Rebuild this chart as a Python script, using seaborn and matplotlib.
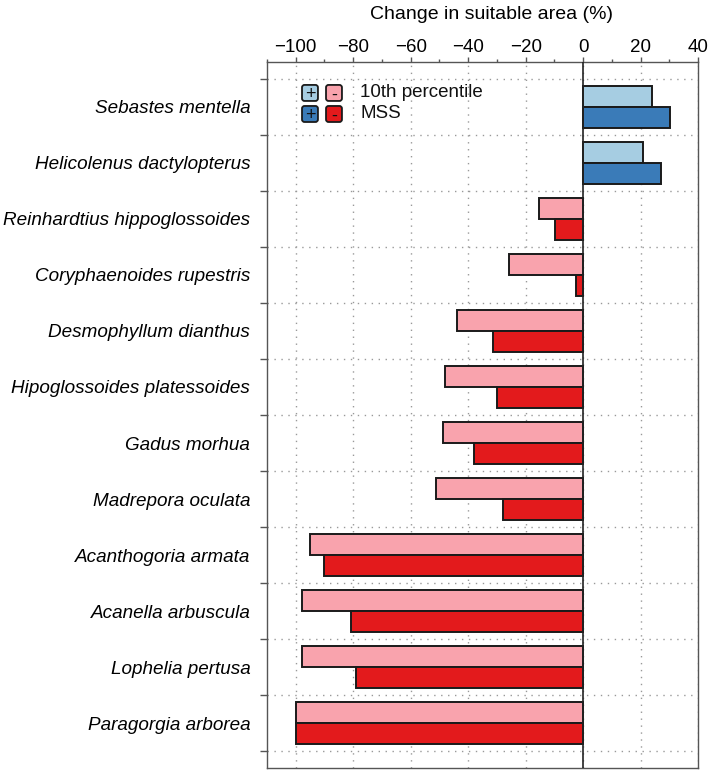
import numpy as np
import pandas as pd
import matplotlib
matplotlib.use("Agg")
import matplotlib.pyplot as plt
import seaborn as sns
from matplotlib.patches import FancyBboxPatch
from matplotlib.ticker import MultipleLocator, FixedLocator

species = ["Sebastes mentella", "Helicolenus dactylopterus", "Reinhardtius hippoglossoides",
           "Coryphaenoides rupestris", "Desmophyllum dianthus", "Hipoglossoides platessoides",
           "Gadus morhua", "Madrepora oculata", "Acanthogoria armata", "Acanella arbuscula",
           "Lophelia pertusa", "Paragorgia arborea"]
pct10 = [24.0, 20.9, -15.3, -25.9, -44.0, -47.9, -48.8, -51.2, -95.1, -97.7, -97.9, -100.0]
mss = [30.4, 27.2, -9.8, -2.3, -31.5, -29.8, -38.0, -27.7, -90.3, -80.7, -79.0, -100.0]
series = ["10th percentile", "MSS"]

pos_colors = {"10th percentile": "#a6cde2", "MSS": "#3a7bb8"}
neg_colors = {"10th percentile": "#f9a3ad", "MSS": "#e31a1c"}

df = pd.DataFrame({
    "species": species * 2,
    "series": [series[0]] * len(species) + [series[1]] * len(species),
    "value": pct10 + mss,
})

sns.set_theme(style="white")
plt.rcParams["font.family"] = ["Liberation Sans", "DejaVu Sans"]
plt.rcParams["text.color"] = "black"
plt.rcParams["axes.labelcolor"] = "black"
plt.rcParams["xtick.labelcolor"] = "black"
plt.rcParams["ytick.labelcolor"] = "black"

fig = plt.figure(figsize=(7.09, 7.70), dpi=100)
ax = fig.add_axes([0.3766, 0.0026, 0.6079, 0.9169])

sns.barplot(data=df, y="species", x="value", hue="series", order=species,
            hue_order=series, orient="h", width=0.75, dodge=True,
            edgecolor="#1a1a1a", linewidth=1.4, legend=False, ax=ax, zorder=3)

# colour each bar by its sign
for cont, name in zip(ax.containers, series):
    for bar, v in zip(cont, df[df["series"] == name]["value"]):
        bar.set_facecolor(pos_colors[name] if v >= 0 else neg_colors[name])

ax.axvline(0, color="#222222", lw=1.2, zorder=4)

ax.set_xlim(-110, 40)
ax.set_ylim(len(species) - 0.2, -0.8)

# x axis on top
ax.xaxis.tick_top()
ax.xaxis.set_label_position("top")
ax.xaxis.set_minor_locator(MultipleLocator(10))
ax.set_xticks(np.arange(-100, 41, 20))
ax.set_xticklabels(["\u2212100", "\u221280", "\u221260", "\u221240", "\u221220", "0", "20", "40"])
ax.tick_params(axis="x", which="major", direction="out", length=3.5, width=1,
               color="#555555", labelsize=13.5, pad=1, top=True, bottom=False)
ax.tick_params(axis="x", which="minor", direction="out", length=2, width=1,
               color="#555555", top=True, bottom=False)
ax.set_xlabel("Change in suitable area (%)", fontsize=14)
ax.xaxis.set_label_coords(0.52, 1.061)

# y axis: labels at centers, ticks at group boundaries
ax.set_yticks(range(len(species)))
ax.set_yticklabels(species, fontstyle="italic", fontsize=13.6)
ax.yaxis.set_minor_locator(FixedLocator(np.arange(-0.5, len(species), 1.0)))
ax.tick_params(axis="y", which="major", length=0, pad=12)
ax.tick_params(axis="y", which="minor", direction="out", length=5, width=1, color="#555555", left=True)
ax.set_ylabel("")

ax.grid(axis="x", which="major", linestyle=(0, (1, 4)), color="#999999", lw=1, zorder=0)
ax.grid(axis="y", which="minor", linestyle=(0, (1, 4)), color="#999999", lw=1, zorder=0)
ax.grid(axis="y", which="major", visible=False)

for s in ax.spines.values():
    s.set_color("#555555")
    s.set_linewidth(1)

# custom legend
bw, bh = 0.037, 0.0227
rows = [(0.9448, "10th percentile"), (0.915, "MSS")]
for y0, name in rows:
    for x0, col, sym in [(0.0812, pos_colors[name], "+"), (0.1369, neg_colors[name], "-")]:
        ax.add_patch(FancyBboxPatch((x0, y0), bw, bh, boxstyle="round,pad=0,rounding_size=0.006",
                                    transform=ax.transAxes, facecolor=col, edgecolor="#1a1a1a",
                                    lw=1.3, zorder=6, mutation_aspect=0.6))
        ax.text(x0 + bw / 2, y0 + bh / 2, sym, transform=ax.transAxes, ha="center",
                va="center_baseline", fontsize=13, zorder=7, color="#111111")
    ax.text(0.2158, y0 + bh / 2, name, transform=ax.transAxes, ha="left", va="center",
            fontsize=13.5, zorder=7, color="#111111")

fig.savefig("out.png", dpi=100)
